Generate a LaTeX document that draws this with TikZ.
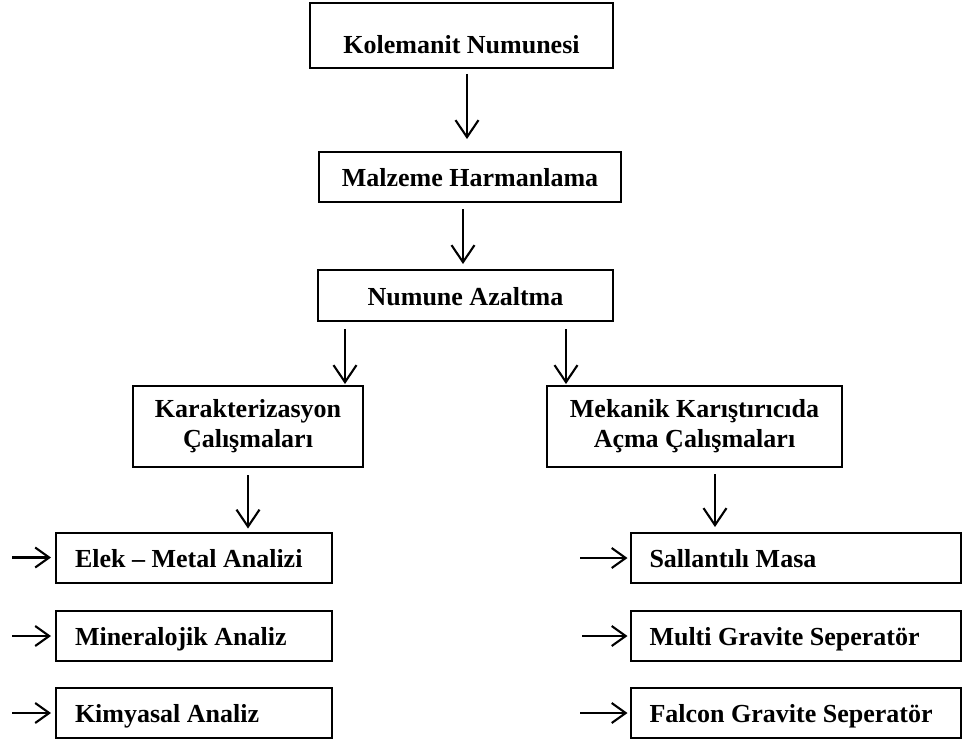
\documentclass[tikz,border=0pt]{standalone}
\usepackage{fontspec}
\setmainfont{Liberation Serif}
\usetikzlibrary{arrows.meta}
\begin{document}
\begin{tikzpicture}[x=1pt,y=-1pt,
  box/.style={draw, line width=2pt, inner sep=0pt,
    font=\bfseries\fontsize{26}{30}\selectfont},
  onebox/.style={box, text height=19pt, text depth=0pt},
  twobox/.style={box, align=center},
  leftbox/.style={onebox, minimum width=276pt, minimum height=50pt,
    inner xsep=19pt, text width=238pt, align=flush left},
  rightbox/.style={onebox, minimum width=330pt, minimum height=50pt,
    inner xsep=19pt, text width=292pt, align=flush left},
  varr/.style={line width=2.1pt, -{Straight Barb[length=17pt,width=23pt]}},
  harr/.style={line width=2.1pt, -{Straight Barb[length=14pt,width=20pt]}}]
\useasboundingbox (0,0) rectangle (962,742);

% main chain
\node[onebox, minimum width=303pt, minimum height=65pt, text height=36pt]
  (kol) at (461.5,35.3) {Kolemanit Numunesi};
\node[onebox, minimum width=302pt, minimum height=50pt]
  (mal) at (470,177) {Malzeme Harmanlama};
\node[onebox, minimum width=295pt, minimum height=51pt]
  (num) at (465.5,295.5) {Numune Azaltma};

% two branches
\node[twobox, minimum width=230pt, minimum height=81pt]
  (kar) at (248,426.5) {Karakterizasyon\\Çalışmaları};
\node[twobox, minimum width=295pt, minimum height=81pt]
  (mek) at (694.5,426.5) {Mekanik Karıştırıcıda\\Açma Çalışmaları};

% characterisation steps
\node[leftbox] (elek) at (194,557.5) {Elek – Metal Analizi};
\node[leftbox] (min)  at (194,636)   {Mineralojik Analiz};
\node[leftbox] (kim)  at (194,713)   {Kimyasal Analiz};

% separation steps
\node[rightbox] (sal) at (795.5,558) {Sallantılı Masa};
\node[rightbox] (mul) at (795.5,636) {Multi Gravite Seperatör};
\node[rightbox] (fal) at (795.5,713) {Falcon Gravite Seperatör};

% vertical connectors
\draw[varr] ([xshift=5.5pt,yshift=-5pt]kol.south) -- ([xshift=-3pt,yshift=12pt]mal.north);
\draw[varr] ([xshift=-7pt,yshift=-6pt]mal.south) -- ([xshift=-2.5pt,yshift=5pt]num.north);
\draw[varr] ([xshift=-120.5pt,yshift=-7pt]num.south) -- ([xshift=97pt,yshift=1pt]kar.north);
\draw[varr] ([xshift=100.5pt,yshift=-7pt]num.south) -- ([xshift=-128.5pt,yshift=1pt]mek.north);
\draw[varr] ([yshift=-7pt]kar.south) -- ([xshift=54pt,yshift=3pt]elek.north);
\draw[varr] ([xshift=20.5pt,yshift=-6pt]mek.south) -- ([xshift=-80.5pt,yshift=5pt]sal.north);

% side inputs
\coordinate (inE) at (12,557.5);
\coordinate (inM) at (12,636);
\coordinate (inK) at (12,713);
\coordinate (inS) at (580,558);
\coordinate (inU) at (582,636);
\coordinate (inF) at (580,713);
\draw[harr] (inE) -- ([xshift=-4pt]elek.west);
\draw[harr] (inM) -- ([xshift=-4pt]min.west);
\draw[harr] (inK) -- ([xshift=-4pt]kim.west);
\draw[harr] (inS) -- ([xshift=-2pt]sal.west);
\draw[harr] (inU) -- ([xshift=-2pt]mul.west);
\draw[harr] (inF) -- ([xshift=-2pt]fal.west);
\end{tikzpicture}
\end{document}
